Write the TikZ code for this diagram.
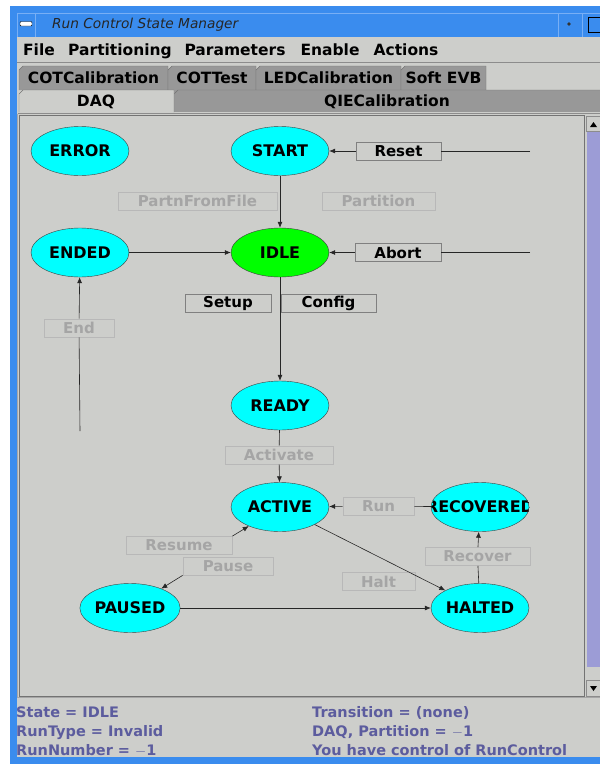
\documentclass[tikz,border=0pt]{standalone}
\usepackage{fontspec}
\setmainfont{DejaVu Sans}
\usetikzlibrary{arrows.meta,shapes.geometric}
\definecolor{winbg}{RGB}{205,206,203}
\definecolor{titleblue}{RGB}{58,140,238}
\definecolor{framehi}{RGB}{120,175,245}
\definecolor{tabdark}{RGB}{152,152,152}
\definecolor{offtext}{RGB}{165,165,165}
\definecolor{statustext}{RGB}{92,92,158}
\definecolor{scrolltrack}{RGB}{156,156,214}
\definecolor{statecyan}{RGB}{0,255,255}
\definecolor{stategreen}{RGB}{0,255,0}

\begin{document}
\begin{tikzpicture}[x=1pt,y=-1pt,
  state/.style={ellipse,draw=black!75,fill=statecyan,minimum width=98pt,minimum height=49pt,
    inner sep=0pt,font=\bfseries\fontsize{16}{16}\selectfont},
  btn/.style={rectangle,draw=black!50,line width=0.8pt,fill=winbg,minimum height=18pt,
    inner sep=0pt,font=\bfseries\fontsize{15}{15}\selectfont},
  offbtn/.style={btn,draw=black!28,text=offtext},
  trans/.style={-{Latex[length=6pt,width=5pt]},black!85,line width=0.6pt},
  wire/.style={black!85,line width=0.6pt},
  tab/.style={draw=black!55,fill=tabdark},
  guitext/.style={anchor=base,inner sep=0pt,font=\bfseries\fontsize{15.5}{15.5}\selectfont},
  status/.style={anchor=base west,inner sep=0pt,text=statustext,
    font=\bfseries\fontsize{14.5}{14.5}\selectfont}]

	\useasboundingbox (0,0) rectangle (600,764);

	% window frame and title bar
	\fill[white] (0,0) rectangle (600,764);
	\fill[titleblue] (10,6) rectangle (600,764);
	\draw[framehi] (17,13) -- (600,13);
	\draw[framehi] (17,13) -- (17,37);
	\draw[framehi] (35,13) -- (35,37);
	\draw[framehi] (558,13) -- (558,37);
	\draw[framehi] (582,13) -- (582,37);
	\draw[black,fill=white,rounded corners=1pt] (20,21.5) rectangle (32,26);
	\fill[black!80] (569,24) circle (1.8pt);
	\draw[black,line width=1pt] (588,17) rectangle (606,32);
	\node[anchor=base west,inner sep=0pt,text=black!85,
	  font=\itshape\fontsize{13.7}{13.7}\selectfont] (title) at (52,28) {Run Control State Manager};
	\fill[winbg] (17,37) rectangle (600,757);

	% menu bar
	\draw[black!45] (17,62) -- (600,62);
	\node[guitext] (mfile) at (39,55) {File};
	\node[guitext] (mpart) at (120,55) {Partitioning};
	\node[guitext] (mparam) at (235,55) {Parameters};
	\node[guitext] (menable) at (330,55) {Enable};
	\node[guitext] (mactions) at (406,55) {Actions};

	% tabs
	\draw[tab] (19,90) -- (19,70) -- (23,66) -- (168,66) -- (168,90);
	\draw[tab] (168,90) -- (168,70) -- (172,66) -- (256,66) -- (256,90);
	\draw[tab] (256,90) -- (256,70) -- (260,66) -- (401,66) -- (401,90);
	\draw[tab] (401,90) -- (401,70) -- (405,66) -- (486,66) -- (486,90);
	\node[guitext] (tcot) at (93.5,83) {COTCalibration};
	\node[guitext] (tcottest) at (212,83) {COTTest};
	\node[guitext] (tled) at (328.5,83) {LEDCalibration};
	\node[guitext] (tsoft) at (443.5,83) {Soft EVB};
	\fill[tabdark] (174,90) rectangle (600,112);
	\draw[black!55] (174,112) -- (174,94) -- (178,90) -- (600,90);
	\draw[draw=black!55,fill=winbg] (19,112) -- (19,94) -- (23,90) -- (174,90) -- (174,112);
	\node[guitext] (tdaq) at (96,106) {DAQ};
	\node[guitext] (tqie) at (387,106) {QIECalibration};

	% panel and scrollbar
	\draw[black!45,line width=1pt] (17.5,113.5) -- (600,113.5);
	\draw[black!55,line width=1pt] (19.5,115.5) rectangle (584.5,696);
	\draw[black!35] (17.5,113.5) -- (17.5,697.5) -- (600,697.5);
	\fill[scrolltrack] (587,132) rectangle (600,667);
	\draw[black!45] (586.5,116) rectangle (602,131.5);
	\fill[black] (590,127) -- (597,127) -- (593.5,122) -- cycle;
	\draw[black!45] (586.5,680) rectangle (602,696);
	\fill[black] (590,686) -- (597,686) -- (593.5,691) -- cycle;

	% states
	\node[state] (error) at (80,151) {ERROR};
	\node[state] (start) at (280,151) {START};
	\node[state] (ended) at (80,252.5) {ENDED};
	\node[state,fill=stategreen] (idle) at (280,252.5) {IDLE};
	\node[state] (ready) at (280,405.5) {READY};
	\node[state] (active) at (280,507) {ACTIVE};
	\node[state,path picture={\node[font=\bfseries\fontsize{16}{16}\selectfont] (recoveredtext)
	  at (path picture bounding box.center) {RECOVERED};}] (recovered) at (480,507) {};
	\node[state] (paused) at (130,608) {PAUSED};
	\node[state] (halted) at (480,608) {HALTED};

	% transition buttons
	\node[btn,minimum width=85pt] (reset) at (398.5,151) {Reset};
	\node[offbtn,minimum width=159pt] (partnfromfile) at (197.5,201) {PartnFromFile};
	\node[offbtn,minimum width=113pt] (partition) at (378.5,201) {Partition};
	\node[btn,minimum width=86pt] (abort) at (398,252.5) {Abort};
	\node[btn,minimum width=86pt] (setup) at (228,303) {Setup};
	\node[btn,minimum width=95pt] (config) at (328.5,303) {Config};
	\node[offbtn,minimum width=70pt] (endbtn) at (79,328) {End};
	\node[offbtn,minimum width=108pt] (activate) at (279,455) {Activate};
	\node[offbtn,minimum width=71pt] (run) at (378.5,506) {Run};
	\node[offbtn,minimum width=105pt] (recover) at (477.5,556.5) {Recover};
	\node[offbtn,minimum width=73pt] (halt) at (378.5,581.5) {Halt};
	\node[offbtn,minimum width=106pt] (resume) at (179,545.5) {Resume};
	\node[offbtn,minimum width=90pt] (pause) at (228,566) {Pause};

	% connectors
	\coordinate (resetin) at (530,151);
	\coordinate (abortin) at (530,252.5);
	\coordinate (endin) at (80,431);
	\draw[trans] (start) -- (idle);
	\draw[wire] (resetin) -- (reset);
	\draw[trans] (reset) -- (start);
	\draw[wire] (abortin) -- (abort);
	\draw[trans] (abort) -- (idle);
	\draw[trans] (ended) -- (idle);
	\draw[wire] (endin) -- (endbtn);
	\draw[trans] (endbtn) -- (ended);
	\draw[trans] (idle) -- (ready);
	\draw[wire] (ready) -- (activate);
	\draw[trans] (activate) -- (active);
	\draw[wire] (recovered) -- (run);
	\draw[trans] (run) -- (active);
	\draw[wire] (halted) -- (recover);
	\draw[trans] (recover) -- (recovered);
	\draw[trans] (active) -- (halted);
	\draw[trans] (paused) -- (halted);
	\draw[trans] (resume.north east) -- (active);
	\draw[trans] (pause.south west) -- (paused);

	% status lines
	\node[status] (sstate) at (16,717) {State = IDLE};
	\node[status] (sruntype) at (16,736) {RunType = Invalid};
	\node[status] (srunnumber) at (16,755) {RunNumber = $-$1};
	\node[status] (strans) at (312,717) {Transition = (none)};
	\node[status] (spartition) at (312,736) {DAQ, Partition = $-$1};
	\node[status] (scontrol) at (312,755) {You have control of RunControl};

\end{tikzpicture}
\end{document}
